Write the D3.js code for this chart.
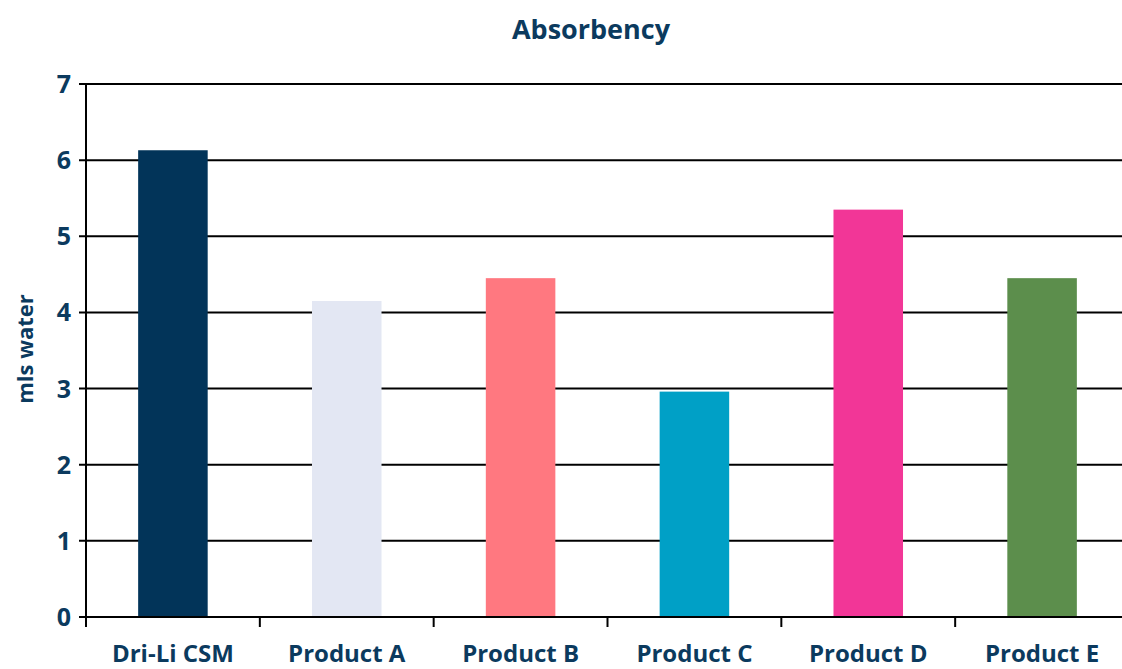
<!DOCTYPE html>
<html>
<head>
<meta charset="utf-8">
<script src="https://cdn.jsdelivr.net/npm/d3@7"></script>
<style>
  html, body { margin: 0; padding: 0; background: #fff; }
  svg { display: block; }
  text { font-family: "Open Sans", "Noto Sans", sans-serif; font-weight: 700; fill: #0b3a5e; }
</style>
</head>
<body>
<svg id="chart" width="1122" height="669"></svg>
<script>
const categories = ["Dri-Li CSM", "Product A", "Product B", "Product C", "Product D", "Product E"];
const values = [6.13, 4.15, 4.45, 2.96, 5.35, 4.45];
const barColors = ["#023459", "#e3e7f3", "#ff7880", "#00a0c6", "#f23697", "#5c8e4c"];
const yTicks = [0, 1, 2, 3, 4, 5, 6, 7];

const svg = d3.select("#chart");
const margin = { top: 84, left: 86, bottom: 617, right: 1129 };

const x = d3.scaleBand()
  .domain(categories)
  .range([margin.left, margin.right])
  .paddingInner(0.6)
  .paddingOuter(0.3);

const y = d3.scaleLinear()
  .domain([0, 7])
  .range([margin.bottom, margin.top]);

// gridlines
svg.append("g")
  .selectAll("line")
  .data(yTicks)
  .join("line")
  .attr("x1", margin.left - 7)
  .attr("x2", 1122)
  .attr("y1", d => y(d))
  .attr("y2", d => y(d))
  .attr("stroke", "#000")
  .attr("stroke-width", 2);

// bars
svg.append("g")
  .selectAll("rect")
  .data(values)
  .join("rect")
  .attr("x", (d, i) => x(categories[i]))
  .attr("width", x.bandwidth())
  .attr("y", d => y(d))
  .attr("height", d => y(0) - y(d))
  .attr("fill", (d, i) => barColors[i]);

// y axis line
svg.append("line")
  .attr("x1", margin.left).attr("x2", margin.left)
  .attr("y1", y(7)).attr("y2", y(0) + 10)
  .attr("stroke", "#000")
  .attr("stroke-width", 2);

// x baseline
svg.append("line")
  .attr("x1", margin.left).attr("x2", 1122)
  .attr("y1", y(0)).attr("y2", y(0))
  .attr("stroke", "#000")
  .attr("stroke-width", 2);

// category boundary ticks
const step = x.step();
svg.append("g")
  .selectAll("line")
  .data(d3.range(categories.length + 1))
  .join("line")
  .attr("x1", i => margin.left + i * step)
  .attr("x2", i => margin.left + i * step)
  .attr("y1", y(0))
  .attr("y2", y(0) + 10)
  .attr("stroke", "#000")
  .attr("stroke-width", 2);

// y tick labels
svg.append("g")
  .selectAll("text")
  .data(yTicks)
  .join("text")
  .attr("x", 71)
  .attr("y", d => y(d))
  .attr("dy", "0.36em")
  .attr("text-anchor", "end")
  .style("font-size", "25px")
  .text(d => d);

// category labels
svg.append("g")
  .selectAll("text")
  .data(categories)
  .join("text")
  .attr("x", d => x(d) + x.bandwidth() / 2)
  .attr("y", 662)
  .attr("text-anchor", "middle")
  .style("font-size", "24px")
  .text(d => d);

// title
svg.append("text")
  .attr("x", 591)
  .attr("y", 39)
  .attr("text-anchor", "middle")
  .style("font-size", "27px")
  .text("Absorbency");

// y axis title
svg.append("text")
  .attr("transform", "translate(33,349) rotate(-90)")
  .attr("text-anchor", "middle")
  .style("font-size", "22px")
  .text("mls water");
</script>
</body>
</html>
